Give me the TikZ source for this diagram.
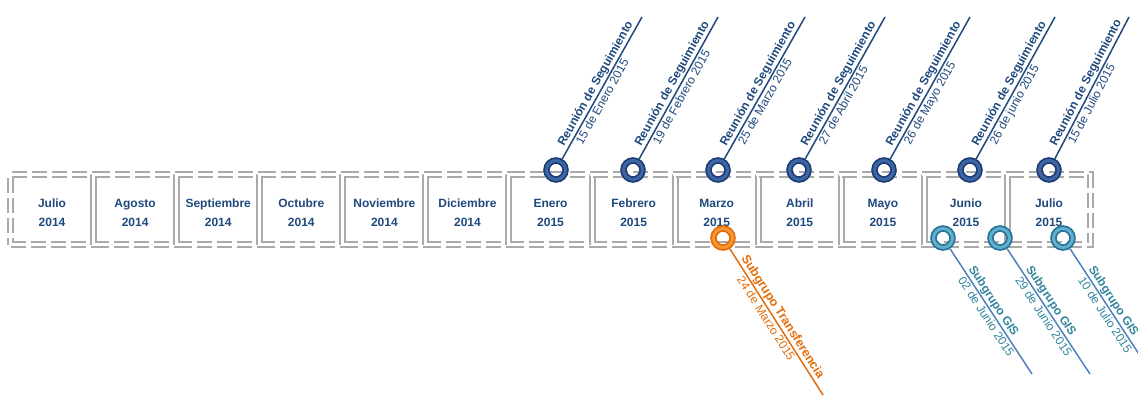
\documentclass[tikz,border=0pt]{standalone}
\usepackage{fontspec}
\setmainfont{Liberation Sans}
\usetikzlibrary{backgrounds}
\definecolor{navy}{RGB}{31,73,125}
\definecolor{ringblue}{RGB}{30,62,115}
\definecolor{ringlight}{RGB}{60,102,165}
\definecolor{boxgray}{RGB}{170,170,170}
\definecolor{naranja}{RGB}{228,108,10}
\definecolor{naranjalight}{RGB}{247,150,50}
\definecolor{gisteal}{RGB}{49,133,156}
\definecolor{gisring}{RGB}{40,115,150}
\definecolor{gislight}{RGB}{95,175,205}
\definecolor{gisline}{RGB}{79,129,189}
\begin{document}
\begin{tikzpicture}[x=1pt,y=-1pt,
  box/.style={draw=boxgray,double=white,double distance=3pt,line width=2pt,dash pattern=on 15pt off 5pt,minimum width=83.08pt,minimum height=70pt,inner sep=0pt},
  meslab/.style={align=center,text=navy,font=\fontsize{12}{19}\selectfont\bfseries,yshift=-3.5pt},
  ring/.style={circle,minimum size=19pt,inner sep=0pt,outer sep=3.25pt,line width=1.75pt,double distance=3pt},
  reuring/.style={ring,draw=ringblue,double=ringlight},
  trfring/.style={ring,draw=naranja,double=naranjalight},
  gisring/.style={ring,draw=gisring,double=gislight},
  toptxt/.style={sloped,anchor=south west,inner sep=1pt,text=navy,font=\fontsize{12}{14}\selectfont\bfseries},
  topdate/.style={sloped,anchor=north west,inner sep=1.5pt,text=navy,font=\fontsize{12}{14}\selectfont},
  trftxt/.style={sloped,anchor=south west,inner sep=1pt,text=naranja,font=\fontsize{12.5}{14}\selectfont\bfseries},
  trfdate/.style={sloped,anchor=north west,inner sep=1.5pt,text=naranja,font=\fontsize{12}{14}\selectfont},
  gistxt/.style={sloped,anchor=south west,inner sep=1pt,text=gisteal,font=\fontsize{12}{14}\selectfont\bfseries},
  gisdate/.style={sloped,anchor=north west,inner sep=1.5pt,text=gisteal,font=\fontsize{12}{14}\selectfont}]
\useasboundingbox (0,0) rectangle (1138,396);
\clip (0,0) rectangle (1138,396);
% months
\node[box,label={[meslab]center:Julio\\2014}] (MES001) at (52.04,209.5) {};
\node[box,label={[meslab]center:Agosto\\2014}] (MES002) at (135.12,209.5) {};
\node[box,label={[meslab]center:Septiembre\\2014}] (MES003) at (218.2,209.5) {};
\node[box,label={[meslab]center:Octubre\\2014}] (MES004) at (301.28,209.5) {};
\node[box,label={[meslab]center:Noviembre\\2014}] (MES005) at (384.36,209.5) {};
\node[box,label={[meslab]center:Diciembre\\2014}] (MES006) at (467.44,209.5) {};
\node[box,label={[meslab]center:Enero\\2015}] (MES007) at (550.52,209.5) {};
\node[box,label={[meslab]center:Febrero\\2015}] (MES008) at (633.6,209.5) {};
\node[box,label={[meslab]center:Marzo\\2015}] (MES009) at (716.68,209.5) {};
\node[box,label={[meslab]center:Abril\\2015}] (MES010) at (799.76,209.5) {};
\node[box,label={[meslab]center:Mayo\\2015}] (MES011) at (882.84,209.5) {};
\node[box,label={[meslab]center:Junio\\2015}] (MES012) at (965.92,209.5) {};
\node[box,label={[meslab]center:Julio\\2015}] (MES013) at (1049.0,209.5) {};
% rings
\node[reuring] (REU001) at (556,170) {};
\node[reuring] (REU002) at (633,170) {};
\node[reuring] (REU003) at (718,170) {};
\node[reuring] (REU004) at (799,170) {};
\node[reuring] (REU005) at (884,170) {};
\node[reuring] (REU006) at (970,170) {};
\node[reuring] (REU007) at (1049,170) {};
\node[trfring] (TRF001) at (723,238) {};
\node[gisring] (GIS001) at (943,238) {};
\node[gisring] (GIS002) at (1000,238) {};
\node[gisring] (GIS003) at (1063,238) {};
\coordinate (TOP001) at (642,17);
\coordinate (TOP002) at (718,17);
\coordinate (TOP003) at (805,17);
\coordinate (TOP004) at (885,17);
\coordinate (TOP005) at (970,17);
\coordinate (TOP006) at (1055,17);
\coordinate (TOP007) at (1129,17);
\coordinate (END001) at (823,395);
\coordinate (END002) at (1032,374);
\coordinate (END003) at (1090,374);
\coordinate (END004) at (1152,374);
\begin{scope}[on background layer]
\draw[navy,line width=1.5pt] (REU001) -- (TOP001) node[toptxt,pos=.06] {Reunión de Seguimiento} node[topdate,pos=.12] {15 de Enero 2015};
\draw[navy,line width=1.5pt] (REU002) -- (TOP002) node[toptxt,pos=.06] {Reunión de Seguimiento} node[topdate,pos=.12] {19 de Febrero 2015};
\draw[navy,line width=1.5pt] (REU003) -- (TOP003) node[toptxt,pos=.06] {Reunión de Seguimiento} node[topdate,pos=.12] {25 de Marzo 2015};
\draw[navy,line width=1.5pt] (REU004) -- (TOP004) node[toptxt,pos=.06] {Reunión de Seguimiento} node[topdate,pos=.12] {27 de Abril 2015};
\draw[navy,line width=1.5pt] (REU005) -- (TOP005) node[toptxt,pos=.06] {Reunión de Seguimiento} node[topdate,pos=.12] {26 de Mayo 2015};
\draw[navy,line width=1.5pt] (REU006) -- (TOP006) node[toptxt,pos=.06] {Reunión de Seguimiento} node[topdate,pos=.12] {26 de junio 2015};
\draw[navy,line width=1.5pt] (REU007) -- (TOP007) node[toptxt,pos=.06] {Reunión de Seguimiento} node[topdate,pos=.12] {15 de Julio 2015};
\draw[naranja,line width=1.5pt] (TRF001) -- (END001) node[trftxt,pos=.07] {Subgrupo Transferencia} node[trfdate,pos=.16] {24 de Marzo 2015};
\draw[gisline,line width=1.5pt] (GIS001) -- (END002) node[gistxt,pos=.17] {Subgrupo GIS} node[gisdate,pos=.19] {02 de Junio 2015};
\draw[gisline,line width=1.5pt] (GIS002) -- (END003) node[gistxt,pos=.17] {Subgrupo GIS} node[gisdate,pos=.19] {29 de Junio 2015};
\draw[gisline,line width=1.5pt] (GIS003) -- (END004) node[gistxt,pos=.17] {Subgrupo GIS} node[gisdate,pos=.19] {10 de Julio 2015};
\end{scope}
\end{tikzpicture}
\end{document}
